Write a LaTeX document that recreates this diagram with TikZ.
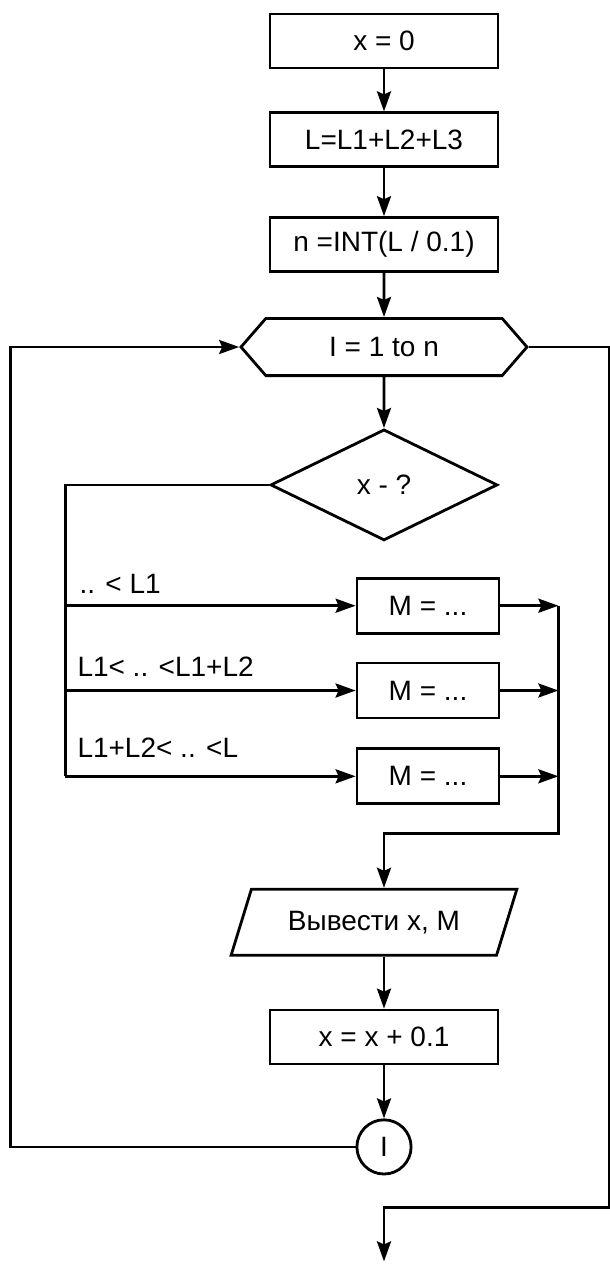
\documentclass[tikz,border=0pt]{standalone}
\usepackage{fontspec}
\setmainfont{Liberation Sans}
\usetikzlibrary{shapes.geometric, shapes.symbols, arrows.meta, positioning, calc}

\begin{document}
\begin{tikzpicture}[
  proc/.style={rectangle, draw=black, line width=1.4pt, minimum width=114pt, minimum height=27pt,
    text centered, font=\fontsize{14pt}{16pt}\selectfont},
  mbox/.style={proc, minimum width=71pt, minimum height=27.5pt},
  io/.style={trapezium, trapezium left angle=67, trapezium right angle=113, trapezium stretches=true,
    draw=black, line width=1.4pt, minimum width=143pt, minimum height=33pt,
    font=\fontsize{14pt}{16pt}\selectfont},
  loophead/.style={signal, signal to=west and east, signal pointer angle=98, draw=black, line width=1.4pt,
    minimum width=143pt, minimum height=28.6pt, font=\fontsize{14pt}{16pt}\selectfont},
  decide/.style={diamond, aspect=2, draw=black, line width=1.4pt, minimum width=113.5pt, minimum height=55.5pt,
    inner sep=0pt, font=\fontsize{14pt}{16pt}\selectfont},
  conn/.style={circle, draw=black, line width=1.4pt, minimum size=27.1pt, inner sep=0pt,
    font=\fontsize{14pt}{16pt}\selectfont},
  lbl/.style={inner sep=0pt, font=\fontsize{14pt}{16pt}\selectfont},
  arrow/.style={-{Stealth[length=10pt, width=7pt, inset=1.5pt]}, line width=1.4pt}
]
\useasboundingbox (0,0) rectangle (305pt,-632.5pt);

\node (start) [proc] at (192pt,-20.5pt) {x = 0};
\node (sum) [proc, below=21pt of start] {L=L1+L2+L3};
\node (count) [proc, below=24pt of sum] {n =INT(L / 0.1)};
\node (hex) [loophead, below=22pt of count] {I = 1 to n};
\node (check) [decide, below=25.5pt of hex] {x - ?};

\node (m1) [mbox, below=17.5pt of check, xshift=22pt] {M = ...};
\node (m2) [mbox, below=13.5pt of m1] {M = ...};
\node (m3) [mbox, below=14pt of m2] {M = ...};

\node (out) [io, below=173pt of check, xshift=-5pt] {Вывести x, M};
\node (incr) [proc, below=26pt of out, xshift=5pt] {x = x + 0.1};
\node (loop) [conn, below=26.5pt of incr] {I};

% branch rail on the left
\coordinate (branch) at ([xshift=-102pt]check.west);
\coordinate (fork1) at (branch |- m1.west);
\coordinate (fork2) at (branch |- m2.west);
\coordinate (fork3) at (branch |- m3.west);

\node (lab1) [lbl, above right=6pt and 7pt of fork1] {.. < L1};
\node (lab2) [lbl, above right=7pt and 6pt of fork2] {L1< .. <L1+L2};
\node (lab3) [lbl, above right=9pt and 6pt of fork3] {L1+L2< .. <L};

% join rail on the right
\coordinate (join1) at ([xshift=29pt]m1.east);
\coordinate (join2) at (m2.east -| join1);
\coordinate (join3) at (m3.east -| join1);
\coordinate (turn) at ($(m3.south -| start)+(0,-14pt)$);

% loop rails
\coordinate (leftrail) at ([xshift=-114.5pt]hex.west);
\coordinate (rightrail) at ([xshift=40.5pt]hex.east);
\coordinate (exitturn) at ([yshift=-16pt]loop.south);
\coordinate (exit) at ([yshift=-43pt]loop.south);

\draw [arrow] (start) -- (sum);
\draw [arrow] (sum) -- (count);
\draw [arrow] (count) -- (hex);
\draw [arrow] (hex) -- (check);

\draw [line width=1.4pt] (check.west) -- (branch) -- (fork3);
\draw [arrow] (fork1) -- (m1);
\draw [arrow] (fork2) -- (m2);
\draw [arrow] (fork3) -- (m3);

\draw [arrow] (m1) -- (join1);
\draw [arrow] (m2) -- (join2);
\draw [arrow] (m3) -- (join3);
\draw [arrow] (join1) |- (turn) -- (turn |- out.north);

\draw [arrow] (out.south -| incr) -- (incr);
\draw [arrow] (incr) -- (loop);

\draw [arrow] (loop.west) -| (leftrail) -- (hex.west);
\draw [arrow] (hex.east) -- (rightrail) |- (exitturn) -- (exit);

\end{tikzpicture}
\end{document}
